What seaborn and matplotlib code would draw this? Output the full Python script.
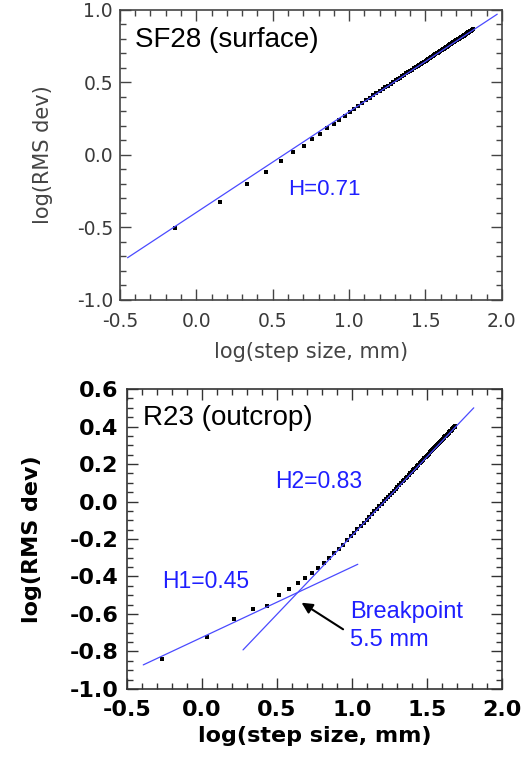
import numpy as np
import pandas as pd
import matplotlib
matplotlib.use("Agg")
import matplotlib.pyplot as plt
from matplotlib.ticker import MultipleLocator, FormatStrFormatter
import seaborn as sns

sns.set_theme(style="ticks")
plt.rcParams['font.family'] = ['DejaVu Sans']
plt.rcParams['axes.unicode_minus'] = True

# ---------------- data: SF28 (surface) ----------------
sf28_step_mm = [0.72, 1.44, 2.16, 2.88, 3.60, 4.32, 5.04, 5.76, 6.48, 7.20,
                7.92, 8.64, 9.36, 10.08, 10.80, 11.52, 12.24, 12.96, 13.68, 14.40,
                15.12, 15.84, 16.56, 17.28, 18.00, 18.72, 19.44, 20.16, 20.88, 21.60,
                22.32, 23.04, 23.76, 24.48, 25.20, 25.92, 26.64, 27.36, 28.08, 28.80,
                29.52, 30.24, 30.96, 31.68, 32.40, 33.12, 33.84, 34.56, 35.28, 36.00,
                36.72, 37.44, 38.16, 38.88, 39.60, 40.32, 41.04, 41.76, 42.48, 43.20,
                43.92, 44.64, 45.36, 46.08, 46.80, 47.52, 48.24, 48.96, 49.68, 50.40,
                51.12, 51.84, 52.56, 53.28, 54.00, 54.72, 55.44, 56.16, 56.88, 57.60,
                58.32, 59.04, 59.76, 60.48, 61.20, 61.92, 62.64, 63.36, 64.08, 64.80]
sf28_log_rms = [-0.505, -0.326, -0.202, -0.119, -0.046, 0.016, 0.062, 0.110, 0.145, 0.184,
                0.214, 0.241, 0.269, 0.294, 0.317, 0.339, 0.357, 0.375, 0.391, 0.411,
                0.426, 0.440, 0.453, 0.466, 0.478, 0.490, 0.502, 0.513, 0.523, 0.533,
                0.543, 0.553, 0.562, 0.571, 0.580, 0.588, 0.597, 0.605, 0.613, 0.620,
                0.628, 0.635, 0.642, 0.649, 0.656, 0.662, 0.669, 0.675, 0.681, 0.687,
                0.693, 0.699, 0.705, 0.711, 0.716, 0.722, 0.727, 0.732, 0.737, 0.742,
                0.747, 0.752, 0.757, 0.762, 0.767, 0.771, 0.776, 0.780, 0.784, 0.789,
                0.793, 0.797, 0.801, 0.806, 0.810, 0.814, 0.818, 0.821, 0.825, 0.829,
                0.833, 0.837, 0.840, 0.844, 0.847, 0.851, 0.854, 0.858, 0.861, 0.865]
sf28_fit_x = [-0.45, 1.97]
sf28_fit_y = [-0.71, 0.97]

# ---------------- data: R23 (outcrop) ----------------
r23_step_mm = [0.545, 1.09, 1.635, 2.18, 2.725, 3.27, 3.815, 4.36, 4.905, 5.45,
               5.995, 6.54, 7.085, 7.63, 8.175, 8.72, 9.265, 9.81, 10.355, 10.90,
               11.445, 11.99, 12.535, 13.08, 13.625, 14.17, 14.715, 15.26, 15.805, 16.35,
               16.895, 17.44, 17.985, 18.53, 19.075, 19.62, 20.165, 20.71, 21.255, 21.80,
               22.345, 22.89, 23.435, 23.98, 24.525, 25.07, 25.615, 26.16, 26.705, 27.25,
               27.795, 28.34, 28.885, 29.43, 29.975, 30.52, 31.065, 31.61, 32.155, 32.70,
               33.245, 33.79, 34.335, 34.88, 35.425, 35.97, 36.515, 37.06, 37.605, 38.15,
               38.695, 39.24, 39.785, 40.33, 40.875, 41.42, 41.965, 42.51, 43.055, 43.60,
               44.145, 44.69, 45.235, 45.78, 46.325, 46.87, 47.415, 47.96, 48.505, 49.05]
r23_log_rms = [-0.842, -0.721, -0.629, -0.573, -0.556, -0.499, -0.469, -0.433, -0.406, -0.380,
               -0.353, -0.329, -0.302, -0.277, -0.253, -0.230, -0.207, -0.186, -0.167, -0.148,
               -0.130, -0.113, -0.097, -0.081, -0.066, -0.051, -0.038, -0.024, -0.011, 0.001,
               0.013, 0.025, 0.036, 0.047, 0.058, 0.068, 0.078, 0.088, 0.097, 0.107,
               0.116, 0.125, 0.133, 0.142, 0.150, 0.158, 0.166, 0.174, 0.181, 0.189,
               0.196, 0.203, 0.210, 0.217, 0.224, 0.230, 0.237, 0.243, 0.249, 0.256,
               0.262, 0.268, 0.273, 0.279, 0.285, 0.290, 0.296, 0.301, 0.307, 0.312,
               0.317, 0.322, 0.327, 0.332, 0.337, 0.342, 0.347, 0.352, 0.356, 0.361,
               0.366, 0.370, 0.375, 0.379, 0.383, 0.388, 0.392, 0.396, 0.400, 0.404]
r23_fit1_x = [-0.39, 1.04]
r23_fit1_y = [-0.872, -0.335]
r23_fit2_x = [0.275, 1.813]
r23_fit2_y = [-0.792, 0.500]

sf28 = pd.DataFrame({"x": np.log10(sf28_step_mm), "y": sf28_log_rms})
r23 = pd.DataFrame({"x": np.log10(r23_step_mm), "y": r23_log_rms})

BLUE_LINE = "#4a4aff"
BLUE_TEXT = "#1f1fff"
ARIAL = ["Liberation Sans", "DejaVu Sans"]

fig = plt.figure(figsize=(5.26, 7.57), dpi=100)
ax1 = fig.add_axes([0.228, 0.604, 0.726, 0.383])
ax2 = fig.add_axes([0.241, 0.090, 0.713, 0.396])

# ---------- top panel ----------
sns.scatterplot(data=sf28, x="x", y="y", ax=ax1, marker="s", s=7,
                color="black", linewidth=0, zorder=3)
sns.lineplot(x=sf28_fit_x, y=sf28_fit_y, ax=ax1, color=BLUE_LINE, lw=0.9, zorder=4)
ax1.set_xlim(-0.5, 2.0)
ax1.set_ylim(-1.0, 1.0)
ax1.xaxis.set_major_locator(MultipleLocator(0.5))
ax1.xaxis.set_minor_locator(MultipleLocator(0.1))
ax1.yaxis.set_major_locator(MultipleLocator(0.5))
ax1.yaxis.set_minor_locator(MultipleLocator(0.1))
ax1.xaxis.set_major_formatter(FormatStrFormatter("%.1f"))
ax1.yaxis.set_major_formatter(FormatStrFormatter("%.1f"))
ax1.tick_params(which="both", direction="in", top=True, right=True,
                colors="#444444", width=1.0, labelsize=13.5, labelcolor="#3a3a3a")
ax1.tick_params(which="major", length=8)
ax1.tick_params(which="minor", length=4.5)
ax1.tick_params(axis="x", which="major", pad=9)
ax1.tick_params(axis="y", which="major", pad=5)
for sp in ax1.spines.values():
    sp.set_color("#444444")
    sp.set_linewidth(1.2)
ax1.set_xlabel("log(step size, mm)", fontsize=15, color="#444444")
ax1.set_ylabel("log(RMS dev)", fontsize=15, color="#444444")
ax1.xaxis.set_label_coords(0.5, -0.145)
ax1.yaxis.set_label_coords(-0.175, 0.5)
ax1.text(-0.402, 0.793, "SF28 (surface)", fontsize=20, family=ARIAL,
         color="black", ha="left", va="center")
ax1.text(0.602, -0.237, "H=0.71", fontsize=16, family=ARIAL,
         color=BLUE_TEXT, ha="left", va="center")

# ---------- bottom panel ----------
sns.scatterplot(data=r23, x="x", y="y", ax=ax2, marker="s", s=9,
                color="black", linewidth=0, zorder=3)
sns.lineplot(x=r23_fit1_x, y=r23_fit1_y, ax=ax2, color=BLUE_LINE, lw=0.9, zorder=4)
sns.lineplot(x=r23_fit2_x, y=r23_fit2_y, ax=ax2, color=BLUE_LINE, lw=0.9, zorder=4)
ax2.set_xlim(-0.5, 2.0)
ax2.set_ylim(-1.0, 0.6)
ax2.xaxis.set_major_locator(MultipleLocator(0.5))
ax2.xaxis.set_minor_locator(MultipleLocator(0.1))
ax2.yaxis.set_major_locator(MultipleLocator(0.2))
ax2.yaxis.set_minor_locator(MultipleLocator(0.05))
ax2.xaxis.set_major_formatter(FormatStrFormatter("%.1f"))
ax2.yaxis.set_major_formatter(FormatStrFormatter("%.1f"))
ax2.tick_params(which="both", direction="in", top=True, right=True,
                colors="#333333", width=1.0, labelsize=16, labelcolor="black")
ax2.tick_params(which="major", length=8)
ax2.tick_params(which="minor", length=4.5)
ax2.tick_params(axis="x", which="major", pad=8)
ax2.tick_params(axis="y", which="major", pad=6)
for lab in ax2.get_xticklabels() + ax2.get_yticklabels():
    lab.set_fontweight("bold")
for sp in ax2.spines.values():
    sp.set_color("#333333")
    sp.set_linewidth(1.2)
ax2.set_xlabel("log(step size, mm)", fontsize=16, color="black", fontweight="bold")
ax2.set_ylabel("log(RMS dev)", fontsize=16, color="black", fontweight="bold")
ax2.xaxis.set_label_coords(0.5, -0.125)
ax2.yaxis.set_label_coords(-0.225, 0.5)
ax2.text(-0.39, 0.445, "R23 (outcrop)", fontsize=20, family=ARIAL,
         color="black", ha="left", va="center")
ax2.text(0.487, 0.109, "H2=0.83", fontsize=16.5, family=ARIAL,
         color=BLUE_TEXT, ha="left", va="center")
ax2.text(-0.265, -0.428, "H1=0.45", fontsize=16.5, family=ARIAL,
         color=BLUE_TEXT, ha="left", va="center")
ax2.text(0.987, -0.588, "Breakpoint", fontsize=17, family=ARIAL,
         color=BLUE_TEXT, ha="left", va="center")
ax2.text(0.987, -0.739, "5.5 mm", fontsize=17, family=ARIAL,
         color=BLUE_TEXT, ha="left", va="center")
ax2.annotate("", xy=(0.665, -0.540), xytext=(0.942, -0.682),
             arrowprops=dict(arrowstyle="-|>", color="black", lw=1.5,
                             mutation_scale=16, shrinkA=0, shrinkB=0))

for ax in (ax1, ax2):
    leg = ax.get_legend()
    if leg is not None:
        leg.remove()

fig.savefig("out.png", dpi=100)
